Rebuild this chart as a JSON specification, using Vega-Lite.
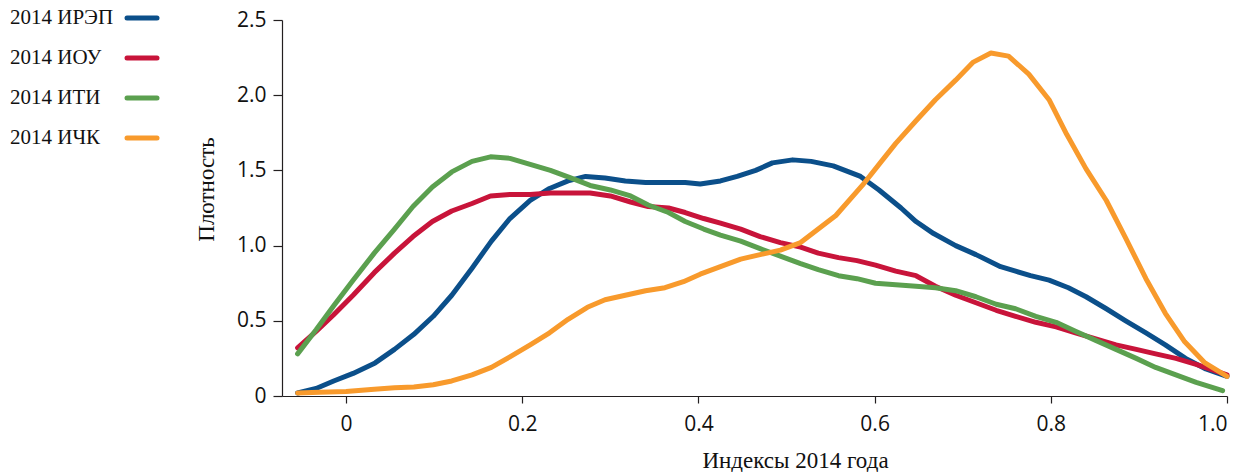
{
  "$schema": "https://vega.github.io/schema/vega-lite/v6.json",
  "width": 945,
  "height": 376,
  "autosize": {"type": "none"},
  "padding": {"left": 282, "top": 20, "right": 21, "bottom": 76},
  "background": "white",
  "config": {
    "view": {"stroke": null},
    "axis": {
      "grid": false,
      "domainColor": "#231f20",
      "domainWidth": 1.2,
      "tickColor": "#231f20",
      "tickWidth": 1.2,
      "labelFont": "Open Sans",
      "labelFontSize": 21,
      "labelColor": "#111111",
      "titleFont": "Liberation Serif",
      "titleFontSize": 22,
      "titleFontWeight": "normal",
      "titleColor": "#111111"
    }
  },
  "data": {
    "values": [
      {"s": "2014 ИРЭП", "x": -0.055, "y": 0.02},
      {"s": "2014 ИРЭП", "x": -0.034, "y": 0.05},
      {"s": "2014 ИРЭП", "x": -0.014, "y": 0.10},
      {"s": "2014 ИРЭП", "x": 0.008, "y": 0.15},
      {"s": "2014 ИРЭП", "x": 0.033, "y": 0.22},
      {"s": "2014 ИРЭП", "x": 0.055, "y": 0.31},
      {"s": "2014 ИРЭП", "x": 0.077, "y": 0.41},
      {"s": "2014 ИРЭП", "x": 0.099, "y": 0.53},
      {"s": "2014 ИРЭП", "x": 0.120, "y": 0.67},
      {"s": "2014 ИРЭП", "x": 0.143, "y": 0.85},
      {"s": "2014 ИРЭП", "x": 0.165, "y": 1.03},
      {"s": "2014 ИРЭП", "x": 0.186, "y": 1.18},
      {"s": "2014 ИРЭП", "x": 0.209, "y": 1.30},
      {"s": "2014 ИРЭП", "x": 0.231, "y": 1.38},
      {"s": "2014 ИРЭП", "x": 0.252, "y": 1.43},
      {"s": "2014 ИРЭП", "x": 0.272, "y": 1.46},
      {"s": "2014 ИРЭП", "x": 0.294, "y": 1.45},
      {"s": "2014 ИРЭП", "x": 0.317, "y": 1.43},
      {"s": "2014 ИРЭП", "x": 0.340, "y": 1.42},
      {"s": "2014 ИРЭП", "x": 0.362, "y": 1.42},
      {"s": "2014 ИРЭП", "x": 0.385, "y": 1.42},
      {"s": "2014 ИРЭП", "x": 0.402, "y": 1.41},
      {"s": "2014 ИРЭП", "x": 0.425, "y": 1.43},
      {"s": "2014 ИРЭП", "x": 0.444, "y": 1.46},
      {"s": "2014 ИРЭП", "x": 0.465, "y": 1.50},
      {"s": "2014 ИРЭП", "x": 0.484, "y": 1.55},
      {"s": "2014 ИРЭП", "x": 0.507, "y": 1.57},
      {"s": "2014 ИРЭП", "x": 0.528, "y": 1.56},
      {"s": "2014 ИРЭП", "x": 0.553, "y": 1.53},
      {"s": "2014 ИРЭП", "x": 0.584, "y": 1.46},
      {"s": "2014 ИРЭП", "x": 0.605, "y": 1.37},
      {"s": "2014 ИРЭП", "x": 0.630, "y": 1.25},
      {"s": "2014 ИРЭП", "x": 0.647, "y": 1.16},
      {"s": "2014 ИРЭП", "x": 0.667, "y": 1.08},
      {"s": "2014 ИРЭП", "x": 0.692, "y": 1.00},
      {"s": "2014 ИРЭП", "x": 0.715, "y": 0.94},
      {"s": "2014 ИРЭП", "x": 0.743, "y": 0.86},
      {"s": "2014 ИРЭП", "x": 0.760, "y": 0.83},
      {"s": "2014 ИРЭП", "x": 0.777, "y": 0.80},
      {"s": "2014 ИРЭП", "x": 0.798, "y": 0.77},
      {"s": "2014 ИРЭП", "x": 0.820, "y": 0.72},
      {"s": "2014 ИРЭП", "x": 0.840, "y": 0.66},
      {"s": "2014 ИРЭП", "x": 0.863, "y": 0.58},
      {"s": "2014 ИРЭП", "x": 0.885, "y": 0.50},
      {"s": "2014 ИРЭП", "x": 0.908, "y": 0.42},
      {"s": "2014 ИРЭП", "x": 0.930, "y": 0.34},
      {"s": "2014 ИРЭП", "x": 0.953, "y": 0.25},
      {"s": "2014 ИРЭП", "x": 0.976, "y": 0.18},
      {"s": "2014 ИРЭП", "x": 1.0, "y": 0.13},

      {"s": "2014 ИОУ", "x": -0.055, "y": 0.32},
      {"s": "2014 ИОУ", "x": -0.034, "y": 0.43},
      {"s": "2014 ИОУ", "x": -0.014, "y": 0.54},
      {"s": "2014 ИОУ", "x": 0.008, "y": 0.67},
      {"s": "2014 ИОУ", "x": 0.032, "y": 0.82},
      {"s": "2014 ИОУ", "x": 0.055, "y": 0.95},
      {"s": "2014 ИОУ", "x": 0.076, "y": 1.06},
      {"s": "2014 ИОУ", "x": 0.098, "y": 1.16},
      {"s": "2014 ИОУ", "x": 0.120, "y": 1.23},
      {"s": "2014 ИОУ", "x": 0.143, "y": 1.28},
      {"s": "2014 ИОУ", "x": 0.164, "y": 1.33},
      {"s": "2014 ИОУ", "x": 0.186, "y": 1.34},
      {"s": "2014 ИОУ", "x": 0.209, "y": 1.34},
      {"s": "2014 ИОУ", "x": 0.232, "y": 1.35},
      {"s": "2014 ИОУ", "x": 0.255, "y": 1.35},
      {"s": "2014 ИОУ", "x": 0.277, "y": 1.35},
      {"s": "2014 ИОУ", "x": 0.300, "y": 1.33},
      {"s": "2014 ИОУ", "x": 0.323, "y": 1.29},
      {"s": "2014 ИОУ", "x": 0.343, "y": 1.26},
      {"s": "2014 ИОУ", "x": 0.366, "y": 1.25},
      {"s": "2014 ИОУ", "x": 0.385, "y": 1.22},
      {"s": "2014 ИОУ", "x": 0.406, "y": 1.18},
      {"s": "2014 ИОУ", "x": 0.425, "y": 1.15},
      {"s": "2014 ИОУ", "x": 0.448, "y": 1.11},
      {"s": "2014 ИОУ", "x": 0.470, "y": 1.06},
      {"s": "2014 ИОУ", "x": 0.493, "y": 1.02},
      {"s": "2014 ИОУ", "x": 0.516, "y": 0.99},
      {"s": "2014 ИОУ", "x": 0.536, "y": 0.95},
      {"s": "2014 ИОУ", "x": 0.559, "y": 0.92},
      {"s": "2014 ИОУ", "x": 0.580, "y": 0.90},
      {"s": "2014 ИОУ", "x": 0.601, "y": 0.87},
      {"s": "2014 ИОУ", "x": 0.624, "y": 0.83},
      {"s": "2014 ИОУ", "x": 0.647, "y": 0.80},
      {"s": "2014 ИОУ", "x": 0.669, "y": 0.73},
      {"s": "2014 ИОУ", "x": 0.692, "y": 0.67},
      {"s": "2014 ИОУ", "x": 0.715, "y": 0.62},
      {"s": "2014 ИОУ", "x": 0.738, "y": 0.57},
      {"s": "2014 ИОУ", "x": 0.760, "y": 0.53},
      {"s": "2014 ИОУ", "x": 0.783, "y": 0.49},
      {"s": "2014 ИОУ", "x": 0.806, "y": 0.46},
      {"s": "2014 ИОУ", "x": 0.828, "y": 0.42},
      {"s": "2014 ИОУ", "x": 0.851, "y": 0.38},
      {"s": "2014 ИОУ", "x": 0.874, "y": 0.34},
      {"s": "2014 ИОУ", "x": 0.897, "y": 0.31},
      {"s": "2014 ИОУ", "x": 0.919, "y": 0.28},
      {"s": "2014 ИОУ", "x": 0.942, "y": 0.25},
      {"s": "2014 ИОУ", "x": 0.965, "y": 0.21},
      {"s": "2014 ИОУ", "x": 1.0, "y": 0.14},

      {"s": "2014 ИТИ", "x": -0.055, "y": 0.28},
      {"s": "2014 ИТИ", "x": -0.034, "y": 0.44},
      {"s": "2014 ИТИ", "x": -0.014, "y": 0.60},
      {"s": "2014 ИТИ", "x": 0.008, "y": 0.77},
      {"s": "2014 ИТИ", "x": 0.032, "y": 0.95},
      {"s": "2014 ИТИ", "x": 0.055, "y": 1.11},
      {"s": "2014 ИТИ", "x": 0.076, "y": 1.26},
      {"s": "2014 ИТИ", "x": 0.098, "y": 1.39},
      {"s": "2014 ИТИ", "x": 0.120, "y": 1.49},
      {"s": "2014 ИТИ", "x": 0.143, "y": 1.56},
      {"s": "2014 ИТИ", "x": 0.164, "y": 1.59},
      {"s": "2014 ИТИ", "x": 0.186, "y": 1.58},
      {"s": "2014 ИТИ", "x": 0.209, "y": 1.54},
      {"s": "2014 ИТИ", "x": 0.232, "y": 1.50},
      {"s": "2014 ИТИ", "x": 0.255, "y": 1.45},
      {"s": "2014 ИТИ", "x": 0.277, "y": 1.40},
      {"s": "2014 ИТИ", "x": 0.300, "y": 1.37},
      {"s": "2014 ИТИ", "x": 0.323, "y": 1.33},
      {"s": "2014 ИТИ", "x": 0.343, "y": 1.27},
      {"s": "2014 ИТИ", "x": 0.366, "y": 1.22},
      {"s": "2014 ИТИ", "x": 0.385, "y": 1.16},
      {"s": "2014 ИТИ", "x": 0.406, "y": 1.11},
      {"s": "2014 ИТИ", "x": 0.425, "y": 1.07},
      {"s": "2014 ИТИ", "x": 0.448, "y": 1.03},
      {"s": "2014 ИТИ", "x": 0.470, "y": 0.98},
      {"s": "2014 ИТИ", "x": 0.493, "y": 0.93},
      {"s": "2014 ИТИ", "x": 0.516, "y": 0.88},
      {"s": "2014 ИТИ", "x": 0.536, "y": 0.84},
      {"s": "2014 ИТИ", "x": 0.559, "y": 0.80},
      {"s": "2014 ИТИ", "x": 0.580, "y": 0.78},
      {"s": "2014 ИТИ", "x": 0.601, "y": 0.75},
      {"s": "2014 ИТИ", "x": 0.624, "y": 0.74},
      {"s": "2014 ИТИ", "x": 0.647, "y": 0.73},
      {"s": "2014 ИТИ", "x": 0.669, "y": 0.72},
      {"s": "2014 ИТИ", "x": 0.692, "y": 0.70},
      {"s": "2014 ИТИ", "x": 0.715, "y": 0.66},
      {"s": "2014 ИТИ", "x": 0.738, "y": 0.61},
      {"s": "2014 ИТИ", "x": 0.760, "y": 0.58},
      {"s": "2014 ИТИ", "x": 0.783, "y": 0.53},
      {"s": "2014 ИТИ", "x": 0.806, "y": 0.49},
      {"s": "2014 ИТИ", "x": 0.828, "y": 0.43},
      {"s": "2014 ИТИ", "x": 0.851, "y": 0.37},
      {"s": "2014 ИТИ", "x": 0.874, "y": 0.31},
      {"s": "2014 ИТИ", "x": 0.897, "y": 0.25},
      {"s": "2014 ИТИ", "x": 0.919, "y": 0.19},
      {"s": "2014 ИТИ", "x": 0.942, "y": 0.14},
      {"s": "2014 ИТИ", "x": 0.965, "y": 0.09},
      {"s": "2014 ИТИ", "x": 0.995, "y": 0.035},

      {"s": "2014 ИЧК", "x": -0.055, "y": 0.02},
      {"s": "2014 ИЧК", "x": -0.030, "y": 0.025},
      {"s": "2014 ИЧК", "x": 0.0, "y": 0.03},
      {"s": "2014 ИЧК", "x": 0.032, "y": 0.045},
      {"s": "2014 ИЧК", "x": 0.055, "y": 0.055},
      {"s": "2014 ИЧК", "x": 0.077, "y": 0.06},
      {"s": "2014 ИЧК", "x": 0.099, "y": 0.075},
      {"s": "2014 ИЧК", "x": 0.120, "y": 0.10},
      {"s": "2014 ИЧК", "x": 0.143, "y": 0.14},
      {"s": "2014 ИЧК", "x": 0.165, "y": 0.19},
      {"s": "2014 ИЧК", "x": 0.186, "y": 0.26},
      {"s": "2014 ИЧК", "x": 0.209, "y": 0.34},
      {"s": "2014 ИЧК", "x": 0.231, "y": 0.42},
      {"s": "2014 ИЧК", "x": 0.252, "y": 0.51},
      {"s": "2014 ИЧК", "x": 0.274, "y": 0.59},
      {"s": "2014 ИЧК", "x": 0.294, "y": 0.64},
      {"s": "2014 ИЧК", "x": 0.317, "y": 0.67},
      {"s": "2014 ИЧК", "x": 0.340, "y": 0.70},
      {"s": "2014 ИЧК", "x": 0.362, "y": 0.72},
      {"s": "2014 ИЧК", "x": 0.383, "y": 0.76},
      {"s": "2014 ИЧК", "x": 0.402, "y": 0.81},
      {"s": "2014 ИЧК", "x": 0.425, "y": 0.86},
      {"s": "2014 ИЧК", "x": 0.448, "y": 0.91},
      {"s": "2014 ИЧК", "x": 0.470, "y": 0.94},
      {"s": "2014 ИЧК", "x": 0.493, "y": 0.97},
      {"s": "2014 ИЧК", "x": 0.516, "y": 1.02},
      {"s": "2014 ИЧК", "x": 0.556, "y": 1.20},
      {"s": "2014 ИЧК", "x": 0.586, "y": 1.40},
      {"s": "2014 ИЧК", "x": 0.605, "y": 1.54},
      {"s": "2014 ИЧК", "x": 0.624, "y": 1.68},
      {"s": "2014 ИЧК", "x": 0.647, "y": 1.83},
      {"s": "2014 ИЧК", "x": 0.669, "y": 1.97},
      {"s": "2014 ИЧК", "x": 0.692, "y": 2.10},
      {"s": "2014 ИЧК", "x": 0.712, "y": 2.22},
      {"s": "2014 ИЧК", "x": 0.732, "y": 2.28},
      {"s": "2014 ИЧК", "x": 0.752, "y": 2.26},
      {"s": "2014 ИЧК", "x": 0.775, "y": 2.14},
      {"s": "2014 ИЧК", "x": 0.798, "y": 1.97},
      {"s": "2014 ИЧК", "x": 0.818, "y": 1.74},
      {"s": "2014 ИЧК", "x": 0.840, "y": 1.51},
      {"s": "2014 ИЧК", "x": 0.863, "y": 1.30},
      {"s": "2014 ИЧК", "x": 0.885, "y": 1.05},
      {"s": "2014 ИЧК", "x": 0.908, "y": 0.78},
      {"s": "2014 ИЧК", "x": 0.930, "y": 0.55},
      {"s": "2014 ИЧК", "x": 0.952, "y": 0.36},
      {"s": "2014 ИЧК", "x": 0.975, "y": 0.22},
      {"s": "2014 ИЧК", "x": 1.0, "y": 0.13}
    ]
  },
  "mark": {"type": "line", "strokeWidth": 5, "strokeJoin": "round", "strokeCap": "round", "clip": false},
  "encoding": {
    "x": {
      "field": "x",
      "type": "quantitative",
      "scale": {"domain": [-0.0727, 1.0], "nice": false, "zero": false},
      "axis": {
        "values": [0, 0.2, 0.4, 0.6, 0.8, 1.0],
        "labelExpr": "datum.value == 0 ? '0' : format(datum.value, '.1f')",
        "tickSize": 7,
        "labelPadding": 10,
        "title": "Индексы 2014 года",
        "titleFontSize": 23,
        "titleX": 513,
        "titleY": 71,
        "titleAnchor": null,
        "titleAlign": "center",
        "titleBaseline": "alphabetic"
      }
    },
    "y": {
      "field": "y",
      "type": "quantitative",
      "scale": {"domain": [0, 2.5], "nice": false},
      "axis": {
        "values": [0, 0.5, 1.0, 1.5, 2.0, 2.5],
        "labelExpr": "datum.value == 0 ? '0' : format(datum.value, '.1f')",
        "tickSize": 9,
        "labelPadding": 7,
        "title": "Плотность",
        "titleFontSize": 23,
        "titleX": -76,
        "titleY": 169,
        "titleAngle": -90,
        "titleAlign": "center",
        "titleBaseline": "middle"
      }
    },
    "color": {
      "field": "s",
      "type": "nominal",
      "scale": {
        "domain": ["2014 ИРЭП", "2014 ИОУ", "2014 ИТИ", "2014 ИЧК"],
        "range": ["#0b4f8a", "#c8143a", "#5ba04f", "#f89a2c"]
      },
      "legend": {
        "title": null,
        "orient": "none",
        "legendX": -272,
        "legendY": -19.5,
        "padding": 0,
        "symbolType": "stroke",
        "symbolSize": 900,
        "symbolStrokeWidth": 5,
        "symbolOffset": 114.5,
        "labelOffset": -149.5,
        "labelFont": "Liberation Serif",
        "labelFontSize": 21,
        "labelColor": "#111111",
        "labelLimit": 200,
        "rowPadding": 12,
        "encode": {"symbols": {"update": {"strokeCap": {"value": "round"}}}}
      }
    }
  }
}
